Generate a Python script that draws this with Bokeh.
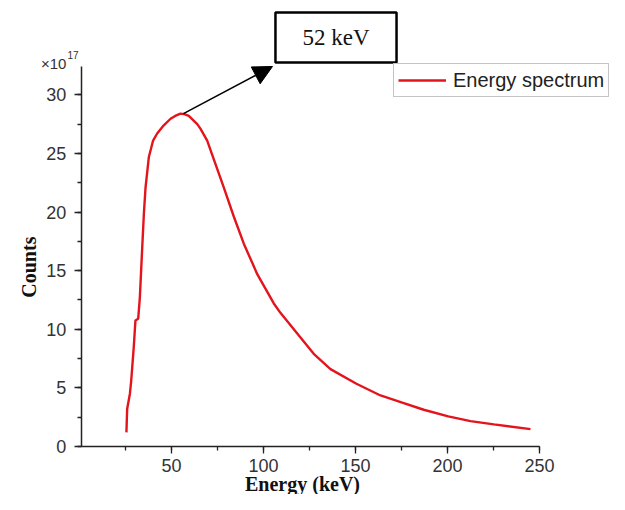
import math
from bokeh.plotting import figure
from bokeh.models import (Range1d, SingleIntervalTicker, Legend, LegendItem, Label,
                          BoxAnnotation, Arrow, NormalHead)
from bokeh.embed import file_html
from bokeh.resources import INLINE

# ---- data ----
energy = [25.5, 25.9, 27.4, 28.1, 29.5, 30.4, 31.9, 32.8, 34.1, 35.0, 35.9, 37.7,
          40.0, 42.2, 45.8, 49.5, 52.0, 54.9, 57.0, 59.4, 64.0, 65.8, 69.4, 73.0,
          78.4, 83.9, 89.3, 96.6, 105.6, 109.2, 119.0, 127.3, 136.4, 150.5, 163.6,
          175.4, 187.1, 200.4, 212.5, 225.2, 245.1]
counts = [1.2, 3.2, 4.5, 5.6, 8.5, 10.75, 10.9, 12.7, 17.0, 19.9, 22.1, 24.7,
          26.1, 26.7, 27.4, 27.96, 28.2, 28.4, 28.35, 28.2, 27.5, 27.1, 26.1, 24.5,
          22.1, 19.6, 17.3, 14.7, 12.2, 11.4, 9.5, 7.9, 6.6, 5.35, 4.35,
          3.73, 3.13, 2.56, 2.16, 1.88, 1.48]
series_name = "Energy spectrum"
peak_label = "52 keV"
peak_point = (56.5, 28.4)
x_title = "Energy (keV)"
y_title = "Counts"
x_bounds = (1, 250)
y_bounds = (0, 32.4)

RED = "#e3141c"

# The frame spans the whole canvas so that the annotations above/right of the
# axes are not clipped; the axes are pinned at the data origin.
p = figure(width=609, height=494, output_backend="svg", toolbar_location=None,
           x_range=Range1d(-42.93, 288.04), y_range=Range1d(-4.10, 38.05),
           min_border=0)
p.outline_line_color = None
p.xgrid.visible = False
p.ygrid.visible = False

r = p.line(energy, counts, line_color=RED, line_width=2.4)

# axes
for ax in (p.xaxis[0], p.yaxis[0]):
    ax.axis_line_color = "#222222"
    ax.axis_line_width = 1.5
    ax.major_tick_line_color = "#222222"
    ax.minor_tick_line_color = "#222222"
    ax.major_tick_line_width = 1.3
    ax.minor_tick_line_width = 1.3
    ax.major_tick_out = 7
    ax.major_tick_in = 0
    ax.minor_tick_out = 4
    ax.minor_tick_in = 0
    ax.major_label_text_font = "Liberation Sans"
    ax.major_label_text_font_size = "18px"
    ax.major_label_text_color = "#333333"

p.xaxis[0].ticker = SingleIntervalTicker(interval=50, num_minor_ticks=2)
p.yaxis[0].ticker = SingleIntervalTicker(interval=5, num_minor_ticks=2)
p.xaxis[0].bounds = x_bounds
p.yaxis[0].bounds = y_bounds
p.xaxis[0].fixed_location = y_bounds[0]
p.yaxis[0].fixed_location = x_bounds[0]
p.xaxis[0].major_label_standoff = 6
p.yaxis[0].major_label_standoff = 8

title_style = dict(text_font="Liberation Serif", text_font_style="bold",
                   text_font_size="20px", text_color="#111111",
                   text_align="center", text_baseline="middle")

# axis titles (placed like the reference)
p.add_layout(Label(x=-27.7, y=15.3, text=y_title, angle=math.pi / 2, **title_style))
p.add_layout(Label(x=121.2, y=-3.24, text=x_title, **title_style))

# x10^17 multiplier
p.add_layout(Label(x=-7.1, y=32.68, text="×10", text_align="right",
                   text_baseline="alphabetic", text_font="Liberation Sans",
                   text_font_size="15px", text_color="#333333"))
p.add_layout(Label(x=-6.5, y=33.36, text="17", text_align="left",
                   text_baseline="alphabetic", text_font="Liberation Sans",
                   text_font_size="10px", text_color="#333333"))

# legend
legend = Legend(items=[LegendItem(label=series_name, renderers=[r])],
                location=(393, 397), margin=0, padding=4, spacing=0,
                glyph_width=48, glyph_height=24, label_height=24, label_standoff=7,
                label_text_font="Liberation Sans", label_text_font_size="20px",
                label_text_color="#222222", border_line_color="#8a8a8a",
                border_line_width=1, background_fill_alpha=1)
p.add_layout(legend, "center")

# annotation box + arrow
p.add_layout(BoxAnnotation(left=106.5, right=172.3, bottom=32.76, top=37.03,
                           fill_color="white", fill_alpha=1,
                           line_color="black", line_alpha=1, line_width=2.5))
p.add_layout(Label(x=139.4, y=34.9, text=peak_label, text_align="center",
                   text_baseline="middle", text_font="Liberation Serif",
                   text_font_size="23px", text_color="#111111"))
p.add_layout(Arrow(end=NormalHead(size=19, fill_color="black", line_color="black"),
                   x_start=peak_point[0], y_start=peak_point[1], x_end=104.9, y_end=32.42,
                   line_color="black", line_width=1.5))

open("out.html", "w").write(file_html(p, INLINE))
